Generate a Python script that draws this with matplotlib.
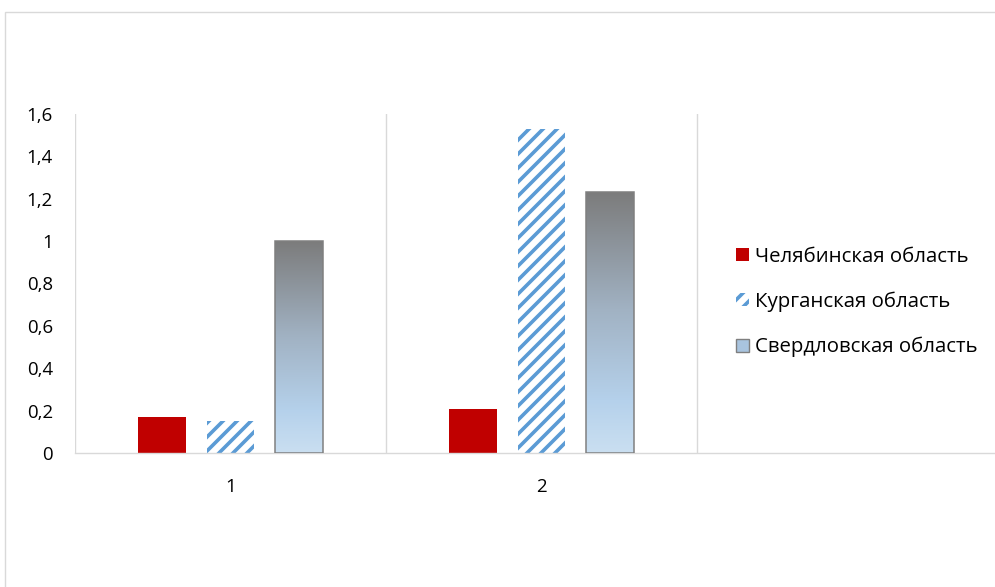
import numpy as np
import matplotlib.pyplot as plt
from matplotlib.patches import Patch, Rectangle
from matplotlib.colors import LinearSegmentedColormap

categories = ['1', '2', '']
series_names = ['Челябинская область', 'Курганская область', 'Свердловская область']
chelyabinsk = [0.17, 0.21]
kurgan = [0.15, 1.53]
sverdlovsk = [1.0, 1.23]
y_ticks = [0, 0.2, 0.4, 0.6, 0.8, 1.0, 1.2, 1.4, 1.6]

DPI = 84
W, H = 995, 587

plt.rcParams['font.family'] = ['Open Sans', 'DejaVu Sans']
plt.rcParams['hatch.linewidth'] = 3.1

fig = plt.figure(figsize=(W / DPI, H / DPI), dpi=DPI)

# chart frame
fig.patches.append(Rectangle((5 / W, -0.1), 1.2, (H - 12) / H + 0.1,
                             transform=fig.transFigure, fill=False,
                             edgecolor='#d9d9d9', lw=1.2))

ax = fig.add_axes([75 / W, (H - 453) / H, 933 / W, 339 / H])

grad = LinearSegmentedColormap.from_list(
    'sv', [(0.0, '#cadff1'), (0.2, '#b5d1eb'), (0.55, '#a1b2c3'), (1.0, '#7c7c7c')])

x = np.arange(1, len(chelyabinsk) + 1)
w = 0.154
off = 0.22
ax.bar(x - off, chelyabinsk, w, color='#c00000', zorder=2)
ax.bar(x, kurgan, w, facecolor='white', edgecolor='#5b9bd5', hatch='//', lw=0, zorder=2)
bars = ax.bar(x + off, sverdlovsk, w, facecolor='none', edgecolor='#7f7f7f', lw=1.3, zorder=4)
for b in bars:
    x0, h = b.get_x(), b.get_height()
    ax.imshow(np.linspace(0, 1, 256).reshape(-1, 1), cmap=grad, origin='lower',
              extent=(x0, x0 + b.get_width(), 0, h), aspect='auto', zorder=3)

ax.set_xlim(0.5, len(categories) + 0.5)
ax.set_ylim(0, 1.6)
ax.set_xticks(np.arange(1, len(categories) + 1))
ax.set_xticklabels(categories)
ax.set_xticks(np.arange(0.5, len(categories) + 1), minor=True)
ax.set_yticks(y_ticks)
ax.set_yticklabels([('%g' % v).replace('.', ',') for v in y_ticks])
ax.tick_params(which='both', length=0, labelsize=16)
ax.tick_params(axis='y', pad=19)
ax.tick_params(axis='x', pad=21)
ax.grid(which='minor', axis='x', color='#d9d9d9', lw=1.2, zorder=0)
for s in ['top', 'right', 'left']:
    ax.spines[s].set_visible(False)
ax.spines['bottom'].set_color('#d9d9d9')
ax.spines['bottom'].set_linewidth(1.2)

handles = [
    Patch(facecolor='#c00000'),
    Patch(facecolor='white', edgecolor='#5b9bd5', hatch='//', lw=0),
    Patch(facecolor='#a9c4df', edgecolor='#7f7f7f', lw=1.2),
]
fig.legend(handles, series_names, loc='center left',
           bbox_to_anchor=(736 / W, 1 - 302 / H), frameon=False,
           fontsize=17.5, handlelength=0.62, handleheight=0.62,
           handletextpad=0.3, labelspacing=1.22, borderpad=0, borderaxespad=0)

fig.savefig('out.png', dpi=DPI)
